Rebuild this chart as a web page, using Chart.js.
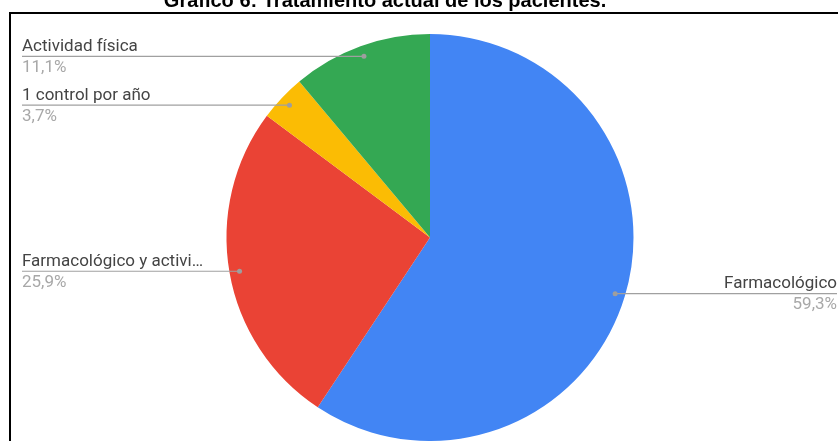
<!DOCTYPE html>
<html>
<head>
<meta charset="utf-8">
<script src="https://cdn.jsdelivr.net/npm/chart.js@4.4.1/dist/chart.umd.min.js"></script>
<style>
  html, body { margin: 0; padding: 0; background: #fff; }
  #wrap { position: relative; width: 838px; height: 441px; overflow: hidden; }
  #frame { position: absolute; left: 9px; top: 12px; right: -10px; bottom: -10px;
           border-top: 2px solid #000; border-left: 2px solid #000; pointer-events: none; }
  canvas { position: absolute; left: 0; top: 0; }
</style>
</head>
<body>
<div id="wrap">
  <canvas id="chart" width="838" height="441"></canvas>
  <div id="frame"></div>
</div>
<script>
// Gráfico 6 — tratamiento actual, porcentaje de pacientes
var TITLE = 'Gráfico 6: Tratamiento actual de los pacientes.';
var CATEGORIES = ['Farmacológico', 'Farmacológico y actividad física', '1 control por año', 'Actividad física'];
var PERCENTS = [59.3, 25.9, 3.7, 11.1];
var COLORS = ['#4285f4', '#ea4335', '#fbbc04', '#34a853'];

function fmtPct(v) { return v.toFixed(1).replace('.', ',') + '%'; }

function fitText(ctx, text, maxW) {
  if (ctx.measureText(text).width <= maxW) return text;
  var t = text;
  while (t.length > 1 && ctx.measureText(t + '…').width > maxW) t = t.slice(0, -1);
  return t.replace(/\s+$/, '') + '…';
}

// etiquetas con línea guía estilo Google Sheets
var leaderLabels = {
  id: 'leaderLabels',
  afterDatasetsDraw: function (chart) {
    var ctx = chart.ctx;
    var arcs = chart.getDatasetMeta(0).data;
    ctx.save();
    arcs.forEach(function (arc, i) {
      var mid = (arc.startAngle + arc.endAngle) / 2;
      var r = arc.outerRadius * 0.95;
      var px = arc.x + Math.cos(mid) * r;
      var py = arc.y + Math.sin(mid) * r;
      var right = px > arc.x;
      var x0 = right ? 837 : 22;

      ctx.strokeStyle = '#a0a0a0';
      ctx.lineWidth = 1.2;
      ctx.beginPath();
      ctx.moveTo(x0, py + 0.5);
      ctx.lineTo(px, py + 0.5);
      ctx.stroke();
      ctx.fillStyle = '#9e9e9e';
      ctx.beginPath();
      ctx.arc(px, py + 0.5, 2.5, 0, Math.PI * 2);
      ctx.fill();

      ctx.font = '17px Roboto, Arial, sans-serif';
      ctx.textAlign = right ? 'right' : 'left';
      ctx.textBaseline = 'alphabetic';
      ctx.fillStyle = '#444444';
      var label = right ? CATEGORIES[i] : fitText(ctx, CATEGORIES[i], px - x0 - 30);
      ctx.fillText(label, x0, py - 5);
      ctx.fillStyle = '#a8a8a8';
      ctx.fillText(fmtPct(PERCENTS[i]), x0, py + 16);
    });

    ctx.font = 'bold 20px "Liberation Sans", Arial, sans-serif';
    ctx.textAlign = 'center';
    ctx.fillStyle = '#000';
    ctx.fillText(TITLE, 385, 7);
    ctx.restore();
  }
};

new Chart(document.getElementById('chart'), {
  type: 'pie',
  data: {
    labels: CATEGORIES,
    datasets: [{
      data: PERCENTS,
      backgroundColor: COLORS,
      borderWidth: 0
    }]
  },
  options: {
    responsive: false,
    animation: false,
    layout: { padding: { top: 34, left: 22, right: 0, bottom: -2 } },
    plugins: {
      legend: { display: false },
      tooltip: { enabled: false }
    }
  },
  plugins: [leaderLabels]
});
</script>
</body>
</html>
